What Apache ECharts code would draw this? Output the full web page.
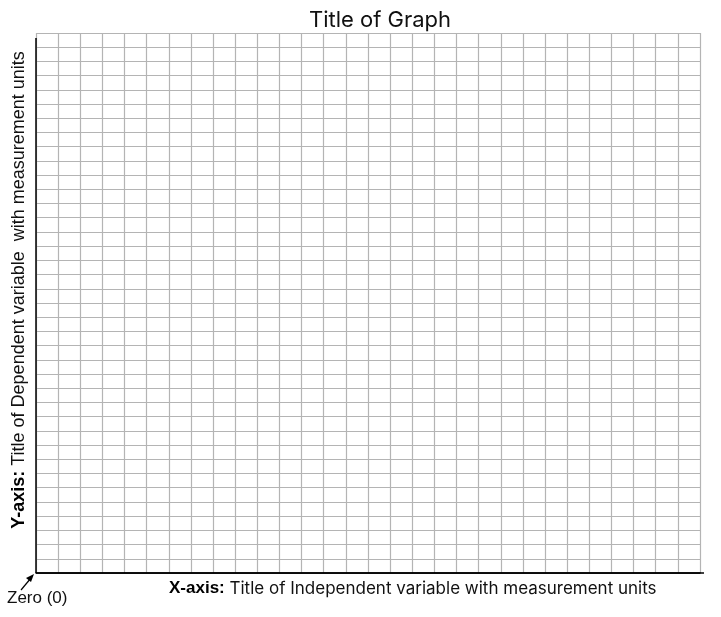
<!DOCTYPE html>
<html>
<head>
<meta charset="utf-8">
<title>Title of Graph</title>
<script src="https://cdn.jsdelivr.net/npm/echarts@6/dist/echarts.min.js"></script>
<style>
  html, body { margin: 0; padding: 0; background: #fff; }
  #main { width: 721px; height: 617px; }
</style>
</head>
<body>
<div id="main"></div>
<script>
// blank graph paper: 30 columns x 38 rows, no data plotted
const chartTitle = 'Title of Graph';
const xRange = [0, 30];
const yRange = [0, 38];
const xLabelBold = 'X-axis:';
const xLabelText = ' Title of Independent variable with measurement units';
const yLabelBold = 'Y-axis:';
const yLabelText = ' Title of Dependent variable  with measurement units';
const zeroLabel = 'Zero (0)';

const chart = echarts.init(document.getElementById('main'));

const option = {
  animation: false,
  backgroundColor: '#fff',
  title: {
    text: chartTitle,
    left: 375,
    textAlign: 'center',
    top: 4,
    textStyle: { fontFamily: 'Inter', fontWeight: 'normal', fontSize: 22, color: '#111' }
  },
  grid: { left: 36, top: 33, right: 21, bottom: 44 },
  xAxis: {
    type: 'value',
    min: xRange[0],
    max: xRange[1],
    interval: 1,
    axisLine: { show: true, lineStyle: { color: '#000', width: 1.5 } },
    axisTick: { show: false },
    axisLabel: { show: false },
    splitLine: { show: true, lineStyle: { color: '#b4b4b4', width: 1.2 } }
  },
  yAxis: {
    type: 'value',
    min: yRange[0],
    max: yRange[1],
    interval: 1,
    axisLine: { show: false },
    axisTick: { show: false },
    axisLabel: { show: false },
    splitLine: { show: true, lineStyle: { color: '#b4b4b4', width: 1.2 } }
  },
  series: [],
  graphic: [
    // y axis line (starts a little below the top of the grid)
    { type: 'line', shape: { x1: 36, y1: 38, x2: 36, y2: 573 }, style: { stroke: '#000', lineWidth: 1.5 }, z: 10 },
    // x axis line runs a bit past the grid
    { type: 'line', shape: { x1: 36, y1: 573, x2: 704, y2: 573 }, style: { stroke: '#000', lineWidth: 1.5 }, z: 10 },
    {
      type: 'text',
      left: 169,
      top: 580,
      style: {
        text: '{b|' + xLabelBold + '}{n|' + xLabelText + '}',
        rich: {
          b: { fontFamily: 'Liberation Sans', fontWeight: 'bold', fontSize: 17, fill: '#000' },
          n: { fontFamily: 'Inter', fontSize: 17, fill: '#111' }
        }
      }
    },
    {
      type: 'text',
      x: 19,
      y: 290,
      rotation: Math.PI / 2,
      style: {
        text: '{b|' + yLabelBold + '}{n|' + yLabelText + '}',
        align: 'center',
        verticalAlign: 'middle',
        rich: {
          b: { fontFamily: 'Liberation Sans', fontWeight: 'bold', fontSize: 18, fill: '#000' },
          n: { fontFamily: 'Liberation Sans', fontSize: 18, fill: '#111' }
        }
      }
    },
    {
      type: 'text',
      left: 7,
      top: 590,
      style: { text: zeroLabel, fontFamily: 'Liberation Sans', fontSize: 17, fill: '#111' }
    },
    // arrow pointing at the origin
    { type: 'line', shape: { x1: 21, y1: 590, x2: 31, y2: 578 }, style: { stroke: '#000', lineWidth: 1.2 } },
    { type: 'polygon', shape: { points: [[34, 574], [26, 578], [31, 582]] }, style: { fill: '#000' } }
  ]
};

chart.setOption(option);
</script>
</body>
</html>
